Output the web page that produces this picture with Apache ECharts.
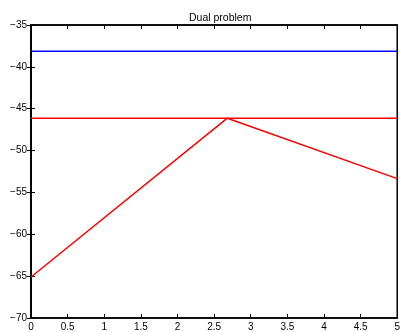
<!DOCTYPE html>
<html><head><meta charset="utf-8">
<script src="https://cdn.jsdelivr.net/npm/echarts@6/dist/echarts.min.js"></script>
<style>html,body{margin:0;padding:0;background:#fff}#c{width:403px;height:332px}</style>
</head><body><div id="c"></div>
<script>
const titleText = "Dual problem";
const xLimits = [0, 5];
const yLimits = [-70, -35];
const blueLevel = -38.13;
const redLevel = -46.13;
const redCurveX = [0, 2.68, 5];
const redCurveY = [-65.1, -46.13, -53.35];

const fmt = v => (v < 0 ? "\u2212" + Math.abs(v) : String(v));
const font = "Liberation Sans";
const chart = echarts.init(document.getElementById('c'), null, {renderer: 'canvas'});
const axisLine = {show: true, lineStyle: {color: '#000', width: 1.5}};
const ticks = {show: true, inside: true, length: 4, lineStyle: {color: '#000', width: 1}};
chart.setOption({
  animation: false,
  backgroundColor: '#fff',
  title: {text: titleText, left: 184, top: 8,
    textStyle: {fontFamily: font, fontSize: 10.5, fontWeight: 'normal', color: '#000'}},
  grid: {left: 31, right: 2, top: 25, bottom: 14, show: true, borderColor: '#000', borderWidth: 1.5},
  xAxis: [
    {type: 'value', min: xLimits[0], max: xLimits[1], interval: 0.5, position: 'bottom',
      axisLine, axisTick: ticks, splitLine: {show: false},
      axisLabel: {fontFamily: font, fontSize: 10, color: '#000', margin: 4, formatter: fmt}},
    {type: 'value', min: xLimits[0], max: xLimits[1], interval: 0.5, position: 'top',
      axisLine, axisTick: ticks, splitLine: {show: false}, axisLabel: {show: false}}
  ],
  yAxis: [
    {type: 'value', min: yLimits[0], max: yLimits[1], interval: 5, position: 'left',
      axisLine, axisTick: ticks, splitLine: {show: false},
      axisLabel: {fontFamily: font, fontSize: 10, color: '#000', margin: 4, formatter: fmt}},
    {type: 'value', min: yLimits[0], max: yLimits[1], interval: 5, position: 'right',
      axisLine, axisTick: ticks, splitLine: {show: false}, axisLabel: {show: false}}
  ],
  series: [
    {type: 'line', data: [[xLimits[0], blueLevel], [xLimits[1], blueLevel]], symbol: 'none',
      lineStyle: {color: '#0000ff', width: 1.5}},
    {type: 'line', data: [[xLimits[0], redLevel], [xLimits[1], redLevel]], symbol: 'none',
      lineStyle: {color: '#ff0000', width: 1.5}},
    {type: 'line', data: redCurveX.map((x, i) => [x, redCurveY[i]]), symbol: 'none',
      lineStyle: {color: '#ff0000', width: 1.5}}
  ]
});
</script></body></html>
